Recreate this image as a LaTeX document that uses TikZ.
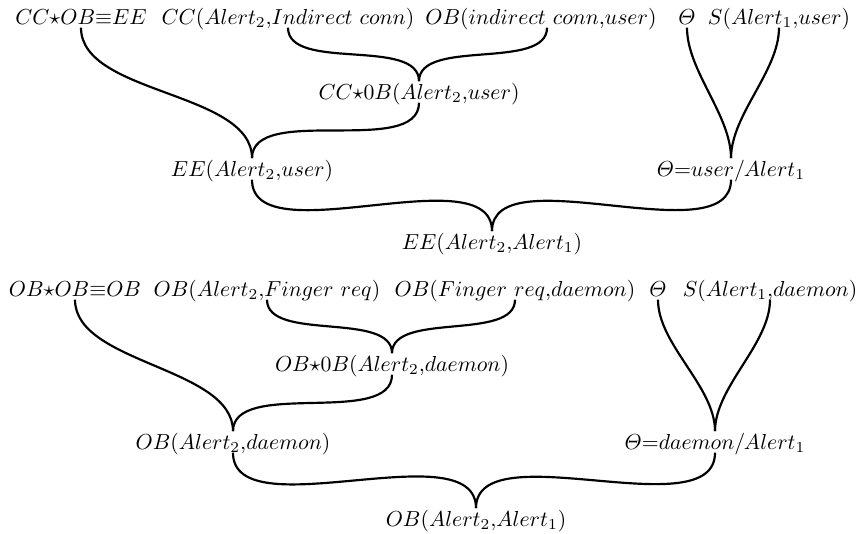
\documentclass[tikz,border=0pt]{standalone}
\usepackage{amsmath}
\usepackage{amssymb}
\usetikzlibrary{calc}

\begin{document}
\begin{tikzpicture}[x=0.46pt,y=-0.46pt,
  lbl/.style={anchor=base,inner sep=0.5pt,text depth=1pt},
  link/.style={line width=1pt,out=-90,in=90,looseness=0.8}]
\useasboundingbox (0,0) rectangle (857,533);
% first derivation
\node[lbl] (A1) at (81,24) {$CC{\star}OB{\equiv}EE$};
\node[lbl] (A2) at (288,24) {$CC(Alert_2{,}Indirect\ conn)$};
\node[lbl] (A3) at (541,24) {$OB(indirect\ conn{,}user)$};
\node[lbl] (A4) at (687,24) {$\varTheta$};
\node[lbl] (A5) at (779,24) {$S(Alert_1{,}user)$};
\node[lbl] (B1) at (419,99) {$CC{\star}0B(Alert_2{,}user)$};
\node[lbl] (D1) at (252,176) {$EE(Alert_2{,}user)$};
\node[lbl] (D2) at (731,176) {$\varTheta{=}user/Alert_1$};
\node[lbl] (E1) at (492,249) {$EE(Alert_2{,}Alert_1)$};
\draw[link] (A2.south) to (B1.north);
\draw[link] ($(A3.south)+(6,0)$) to (B1.north);
\draw[link] (A1.south) to (D1.north);
\draw[link] (B1.south) to (D1.north);
\draw[link] (A4.south) to (D2.north);
\draw[link] (A5.south) to (D2.north);
\draw[link] (D1.south) to (E1.north);
\draw[link] (D2.south) to (E1.north);
% second derivation
\node[lbl] (F1) at (75,296) {$OB{\star}OB{\equiv}OB$};
\node[lbl] (F2) at (267,296) {$OB(Alert_2{,}Finger\ req)$};
\node[lbl] (F3) at (515,296) {$OB(Finger\ req{,}daemon)$};
\node[lbl] (F4) at (658,296) {$\varTheta$};
\node[lbl] (F5) at (770,296) {$S(Alert_1{,}daemon)$};
\node[lbl] (G1) at (392,371) {$OB{\star}0B(Alert_2{,}daemon)$};
\node[lbl] (H1) at (233,449) {$OB(Alert_2{,}daemon)$};
\node[lbl] (H2) at (715,449) {$\varTheta{=}daemon/Alert_1$};
\node[lbl] (K1) at (476,526) {$OB(Alert_2{,}Alert_1)$};
\draw[link] (F2.south) to (G1.north);
\draw[link] (F3.south) to (G1.north);
\draw[link] (F1.south) to (H1.north);
\draw[link] (G1.south) to (H1.north);
\draw[link] (F4.south) to (H2.north);
\draw[link] (F5.south) to (H2.north);
\draw[link] (H1.south) to (K1.north);
\draw[link] (H2.south) to (K1.north);
\end{tikzpicture}
\end{document}
